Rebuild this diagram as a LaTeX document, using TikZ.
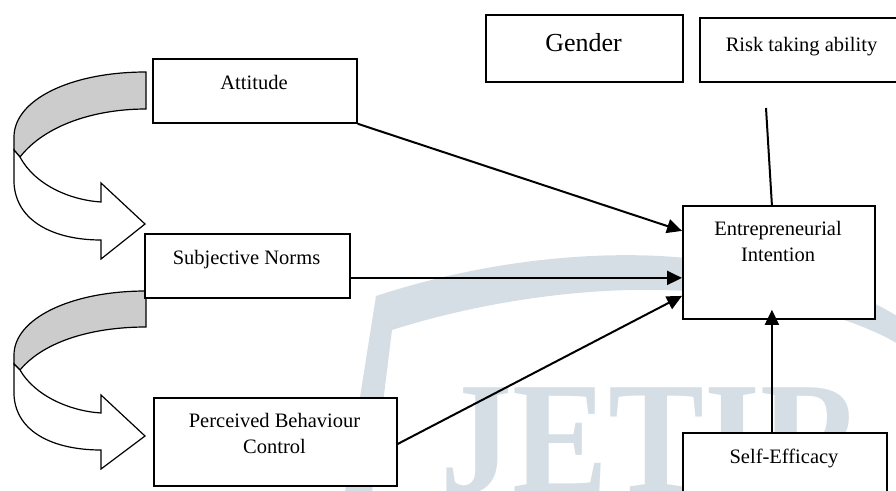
\documentclass[tikz,border=0pt]{standalone}
\usepackage{fontspec}
\setmainfont{Liberation Serif}
\usetikzlibrary{arrows.meta}
\definecolor{wm}{RGB}{213,222,228}
\definecolor{ribbon}{RGB}{204,204,204}
\begin{document}
\begin{tikzpicture}[x=1pt,y=-1pt,
  box/.style={draw, line width=1.8pt, fill=white, anchor=north west, inner sep=0pt},
  lbl/.style={font=\fontsize{20.5}{24}\selectfont, inner sep=0pt, anchor=base},
  conn/.style={line width=2pt, -{Triangle[length=15pt,width=14pt]}},
  rib/.style={draw, line width=1.2pt, line join=miter}]
\useasboundingbox (0,0) rectangle (896,490);
\clip (0,0) rectangle (896,490);

% watermark
\fill[wm] (345,492) -- (376,296) .. controls (480,262) and (580,252) .. (660,256)
  .. controls (760,262) and (850,285) .. (900,318) -- (900,345)
  .. controls (850,315) and (760,292) .. (660,290)
  .. controls (570,288) and (470,305) .. (392,330) -- (372,492) -- cycle;
\node[font=\bfseries\fontsize{160}{160}\selectfont, text=wm, anchor=base west, inner sep=0pt] (wmark) at (440,492) {\scalebox{0.9}[1]{JETIR}};

% curved arrows
\path[rib, fill=ribbon] (146,72) .. controls (70,72) and (14,100) .. (14,137) -- (14,150) -- (20,157)
  .. controls (45,125) and (95,109) .. (146,109) -- cycle;
\path[rib, fill=white] (14,150) -- (14,183) .. controls (16,222) and (55,240) .. (101,240) -- (101,259)
  -- (145,224) -- (101,183) -- (101,202) .. controls (70,200) and (35,185) .. (20,157) -- cycle;

\path[rib, fill=ribbon] (146,291) .. controls (70,291) and (14,319) .. (14,355) -- (14,364) -- (20,370)
  .. controls (45,340) and (95,327) .. (146,327) -- cycle;
\path[rib, fill=white] (14,364) -- (14,395) .. controls (16,433) and (55,450) .. (101,450) -- (101,469)
  -- (145,436) -- (101,395) -- (101,413) .. controls (70,411) and (35,396) .. (20,370) -- cycle;

% boxes
\node[box, minimum width=204pt, minimum height=64pt] (att) at (152,58) {};
\node[box, minimum width=205pt, minimum height=64pt] (sn) at (144,233) {};
\node[box, minimum width=243pt, minimum height=88pt] (pbc) at (153,397) {};
\node[box, minimum width=192pt, minimum height=113pt] (ei) at (682,205) {};
\node[box, minimum width=204pt, minimum height=100pt] (se) at (682,432) {};
\node[box, minimum width=197pt, minimum height=67pt] (gen) at (485,14) {};
\node[box, minimum width=220pt, minimum height=64pt] (risk) at (699,17) {};

% labels
\node[lbl] (attT) at (254,89) {Attitude};
\node[lbl] (snT) at (246.5,264) {Subjective Norms};
\node[lbl] (pbcT1) at (274.5,427) {Perceived Behaviour};
\node[lbl] (pbcT2) at (274.5,453) {Control};
\node[lbl] (eiT1) at (778,235) {Entrepreneurial};
\node[lbl] (eiT2) at (778,261) {Intention};
\node[lbl] (seT) at (784,463) {Self-Efficacy};
\node[lbl, font=\fontsize{26}{30}\selectfont] (genT) at (583.5,51) {Gender};
\node[lbl] (riskT) at (801.5,51) {Risk taking ability};

% connectors
\draw[conn] (att.south east) -- ([yshift=31.5pt]ei.west);
\draw[conn] ([yshift=-12pt]sn.east) -- ([yshift=-15.5pt]ei.west);
\draw[conn] ([yshift=-2pt]pbc.east) -- ([yshift=-33.5pt]ei.west);
\draw[conn] ([xshift=-13pt]se.north) -- ([xshift=-7pt,yshift=10pt]ei.south);
\coordinate (rk) at (766,108);
\draw[line width=2pt] (rk) -- ([xshift=-7pt]ei.north);
\end{tikzpicture}
\end{document}
